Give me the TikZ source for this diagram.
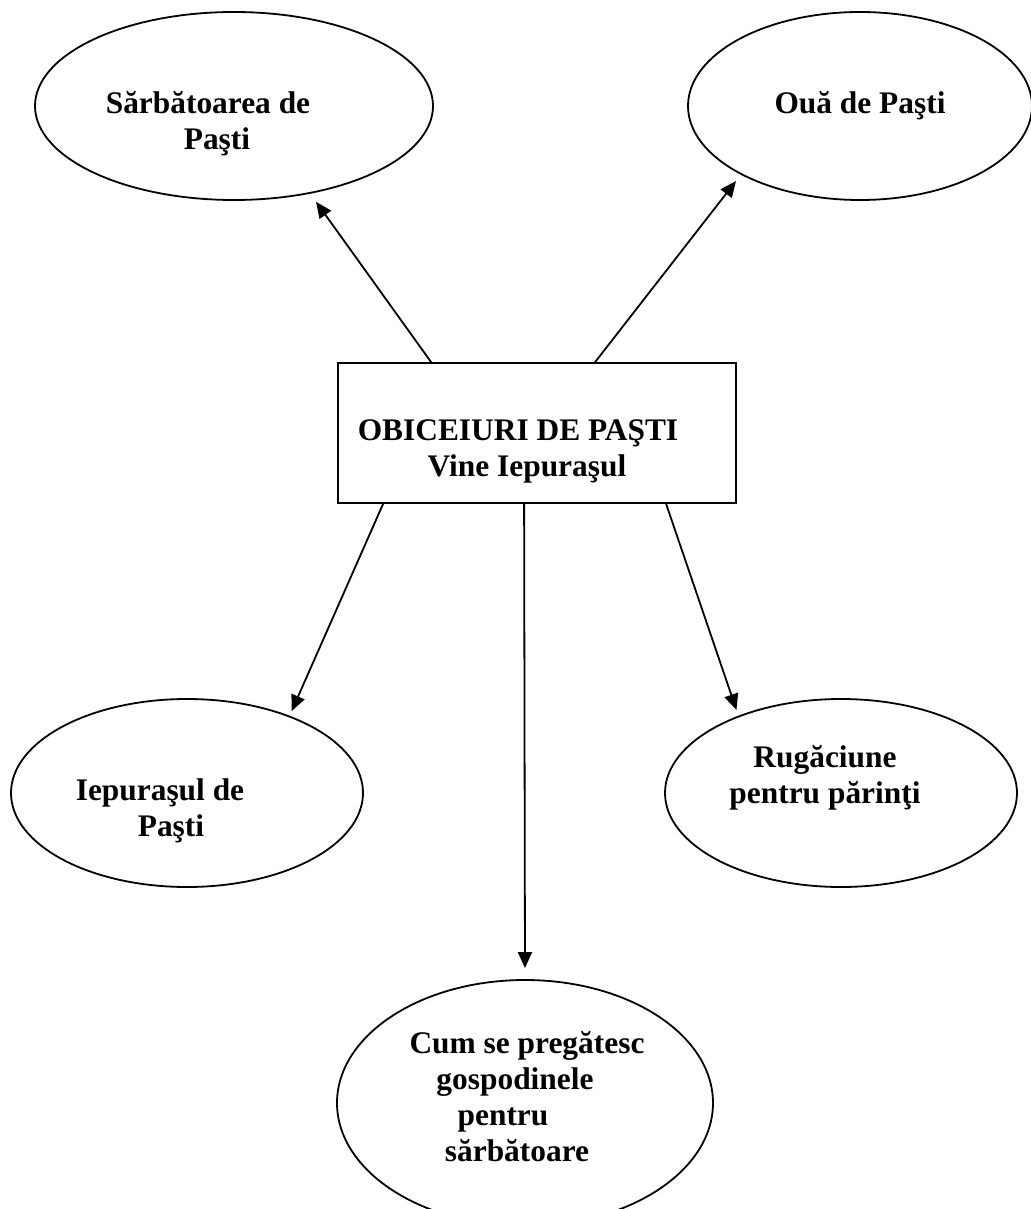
\documentclass[tikz,border=0pt]{standalone}
\usepackage{fontspec}
\setmainfont{Liberation Serif}
\usetikzlibrary{shapes.geometric,arrows.meta,calc}

\tikzset{
	bubble/.style = {draw, ellipse, line width=0.9pt, inner sep=0pt, font=\bfseries\fontsize{15.7}{18}\selectfont},
	box/.style = {draw, rectangle, line width=0.9pt, inner sep=0pt, minimum width=199pt, minimum height=70pt},
	txt/.style = {font=\bfseries\fontsize{15.7}{18}\selectfont, align=center, inner sep=0pt},
	arr/.style = {line width=0.9pt, -{Triangle[length=8pt,width=7pt]}}
}

\begin{document}
\begin{tikzpicture}[x=0.5pt, y=-0.5pt]
				% We will draw the map here
				\useasboundingbox (0,0) rectangle (1030,1209);
				
				% the box in the middle
				\node[box] (obiceiuri) at (537,433) {};
				\node[txt] (titlu) at (518,451) {OBICEIURI DE PAŞTI\\\hspace*{9pt}Vine Iepuraşul};
				
				% the ellipses round it
				\node[bubble, minimum width=199pt, minimum height=94pt] (sarb) at (234,106) {};
				\node[txt] (sarbtext) at (208,124) {Sărbătoarea de\\\hspace*{9pt}Paşti};
				
				\node[bubble, minimum width=172pt, minimum height=94pt] (oua) at (860,106) {Ouă de Paşti};
				
				\node[bubble, minimum width=176pt, minimum height=94pt] (iep) at (187,793) {};
				\node[txt] (ieptext) at (160,811) {Iepuraşul de\\\hspace*{11pt}Paşti};
				
				\node[bubble, minimum width=176pt, minimum height=94pt] (rug) at (841,793) {};
				\node[txt] (rugtext) at (825,778) {Rugăciune\\pentru părinţi};
				
				\node[bubble, minimum width=188pt, minimum height=123pt] (cum) at (525,1103) {};
				\node[txt] (cumtext) at (527,1097) {Cum se pregătesc\\\hspace*{-12pt}gospodinele\\\hspace*{-24pt}pentru\\\hspace*{-10pt}sărbătoare};
				
				% the arrows
				\draw[arr, shorten >=5pt] ($(obiceiuri.north west)+(94,0)$) -- (sarb.311);
				\draw[arr, shorten >=4pt] ($(obiceiuri.north west)+(258,0)$) -- (oua.210);
				\draw[arr, shorten >=2.5pt] ($(obiceiuri.south west)+(46,0)$) -- (iep.37);
				\draw[arr, shorten >=5.5pt] ($(obiceiuri.south west)+(187,0)$) -- (cum.north);
				\draw[arr, shorten >=3pt] ($(obiceiuri.south west)+(329,0)$) -- (rug.143);
				
			\end{tikzpicture}
\end{document}
